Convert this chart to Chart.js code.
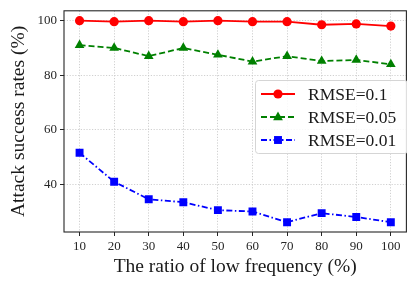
<!DOCTYPE html>
<html>
<head>
<meta charset="utf-8">
<script src="https://cdn.jsdelivr.net/npm/chart.js@4/dist/chart.umd.min.js"></script>
<style>
html,body{margin:0;padding:0;background:#fff;overflow:hidden;width:407px;height:282px;}
#wrap{width:412px;height:282px;}
</style>
</head>
<body>
<div id="wrap"><canvas id="c" width="412" height="282"></canvas></div>
<script>
const ratios = [10, 20, 30, 40, 50, 60, 70, 80, 90, 100];
const rmse01 = [100, 99.6, 100, 99.6, 100, 99.6, 99.6, 98.5, 98.8, 98.0];
const rmse005 = [91.0, 90.0, 87.0, 90.0, 87.5, 85.0, 87.0, 85.2, 85.6, 84.0];
const rmse001 = [51.6, 41.0, 34.6, 33.5, 30.6, 30.1, 26.2, 29.5, 28.1, 26.2];
const seriesLabels = ['RMSE=0.1', 'RMSE=0.05', 'RMSE=0.01'];
const xTicks = [10, 20, 30, 40, 50, 60, 70, 80, 90, 100];
const yTicks = [40, 60, 80, 100];

const FONT = "'Liberation Serif', 'DejaVu Serif', serif";
const pts = arr => ratios.map((x, i) => ({x: x, y: arr[i]}));

const frame = {
  id: 'frame',
  afterDatasetsDraw(chart) {
    const a = chart.chartArea, ctx = chart.ctx;
    ctx.save();
    ctx.strokeStyle = '#262626';
    ctx.lineWidth = 1.1;
    ctx.strokeRect(a.left, a.top, a.right - a.left, a.bottom - a.top);
    ctx.restore();
  }
};

function marker(ctx, style, x, y, r, color) {
  ctx.fillStyle = color;
  ctx.beginPath();
  if (style === 'circle') {
    ctx.arc(x, y, r, 0, Math.PI * 2);
  } else if (style === 'triangle') {
    ctx.moveTo(x, y - r * 1.0);
    ctx.lineTo(x + r * 0.87, y + r * 0.6);
    ctx.lineTo(x - r * 0.87, y + r * 0.6);
    ctx.closePath();
  } else {
    const h = r * Math.SQRT1_2;
    ctx.rect(x - h, y - h, 2 * h, 2 * h);
  }
  ctx.fill();
}

const legendBox = {
  id: 'legendBox',
  afterDraw(chart) {
    const ctx = chart.ctx;
    const bx = 255, by = 80, bw = 152, bh = 73;
    ctx.save();
    ctx.fillStyle = 'rgba(255,255,255,0.85)';
    ctx.strokeStyle = '#d5d5d5';
    ctx.lineWidth = 1;
    ctx.beginPath();
    ctx.roundRect(bx + 0.5, by + 0.5, bw, bh, 3);
    ctx.fill();
    ctx.stroke();
    chart.data.datasets.forEach((ds, i) => {
      const cy = by + 14 + i * 23;
      ctx.strokeStyle = ds.borderColor;
      ctx.lineWidth = ds.borderWidth;
      ctx.setLineDash(ds.borderDash || []);
      ctx.beginPath();
      ctx.moveTo(261, cy);
      ctx.lineTo(295, cy);
      ctx.stroke();
      ctx.setLineDash([]);
      marker(ctx, ds.pointStyle, 278, cy, ds.pointRadius, ds.borderColor);
      ctx.fillStyle = '#1a1a1a';
      ctx.font = '17.5px ' + FONT;
      ctx.textBaseline = 'middle';
      ctx.textAlign = 'left';
      ctx.fillText(ds.label, 308, cy + 1);
    });
    ctx.restore();
  }
};

new Chart(document.getElementById('c'), {
  type: 'line',
  data: {
    datasets: [
      {label: seriesLabels[0], data: pts(rmse01), borderColor: '#ff0000', backgroundColor: '#ff0000',
       borderWidth: 1.8, pointStyle: 'circle', pointRadius: 4.6, pointBorderWidth: 0, borderDash: []},
      {label: seriesLabels[1], data: pts(rmse005), borderColor: '#008000', backgroundColor: '#008000',
       borderWidth: 1.8, pointStyle: 'triangle', pointRadius: 5.6, pointBorderWidth: 0, borderDash: [6, 3]},
      {label: seriesLabels[2], data: pts(rmse001), borderColor: '#0000ff', backgroundColor: '#0000ff',
       borderWidth: 1.8, pointStyle: 'rect', pointRadius: 5.6, pointBorderWidth: 0, borderDash: [6, 2.5, 1.5, 2.5]}
    ]
  },
  options: {
    responsive: false,
    animation: false,
    devicePixelRatio: 1,
    layout: {padding: {top: 2, right: 1, left: 0, bottom: 0}},
    plugins: {legend: {display: false}, tooltip: {enabled: false}},
    elements: {line: {tension: 0}},
    scales: {
      x: {
        type: 'linear', min: 5.5, max: 104.5,
        afterBuildTicks: s => { s.ticks = xTicks.map(v => ({value: v})); },
        afterFit: s => { s.height = 50; },
        grid: {color: '#c4c4c4', lineWidth: 0.8, tickLength: 4, tickColor: '#262626', tickWidth: 1},
        border: {display: false, dash: [1.2, 1.6]},
        ticks: {color: '#262626', font: {family: FONT, size: 13}, padding: 3, maxRotation: 0},
        title: {display: true, text: 'The ratio of low frequency (%)', color: '#1a1a1a',
                font: {family: FONT, size: 19.5}, padding: {top: 0, bottom: 3}}
      },
      y: {
        type: 'linear', min: 22.6, max: 103.6,
        afterBuildTicks: s => { s.ticks = yTicks.map(v => ({value: v})); },
        afterFit: s => { s.width = 64; },
        grid: {color: '#c4c4c4', lineWidth: 0.8, tickLength: 4, tickColor: '#262626', tickWidth: 1},
        border: {display: false, dash: [1.2, 1.6]},
        ticks: {color: '#262626', font: {family: FONT, size: 13}, padding: 3},
        title: {display: true, text: 'Attack success rates (%)', color: '#1a1a1a',
                font: {family: FONT, size: 19.5}, padding: {top: 7, bottom: 0}}
      }
    }
  },
  plugins: [frame, legendBox]
});
</script>
</body>
</html>
